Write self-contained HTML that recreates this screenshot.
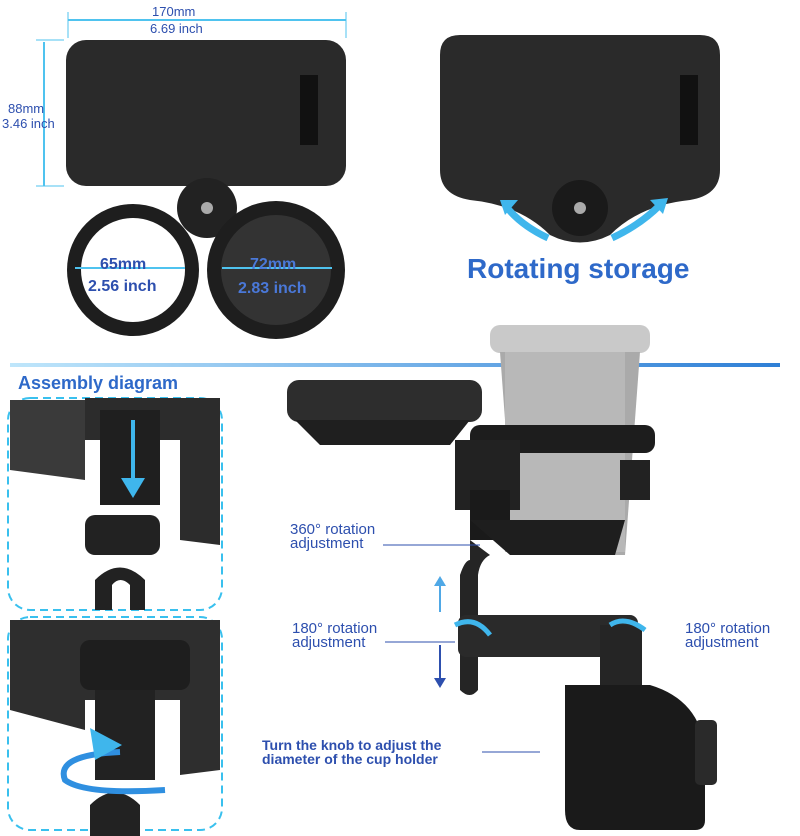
<!DOCTYPE html>
<html><head><meta charset="utf-8"><style>
body{margin:0;background:#fff;width:800px;height:836px;position:relative;overflow:hidden;font-family:"Liberation Sans",sans-serif}
.a{position:absolute}
.t{position:absolute;color:#2d4fae;font-weight:bold;white-space:nowrap}
.lbl{position:absolute;color:#2d4fae;font-size:15px;line-height:14px;white-space:nowrap}
</style></head><body>
<svg class="a" style="left:0;top:0" width="800" height="836">
<defs>
<linearGradient id="ln" x1="0" x2="1"><stop offset="0" stop-color="#bfe6fb"/><stop offset="1" stop-color="#2e7fd6"/></linearGradient>
</defs>
<line x1="68" y1="20" x2="346" y2="20" stroke="#4fc3ef" stroke-width="2"/>
<line x1="68" y1="12" x2="68" y2="38" stroke="#4fc3ef"/><line x1="346" y1="12" x2="346" y2="38" stroke="#4fc3ef"/>
<line x1="44" y1="42" x2="44" y2="186" stroke="#4fc3ef" stroke-width="2"/>
<line x1="36" y1="40" x2="64" y2="40" stroke="#4fc3ef"/><line x1="36" y1="186" x2="64" y2="186" stroke="#4fc3ef"/>
<rect x="66" y="40" width="280" height="146" rx="20" fill="#2a2a2a"/>
<rect x="300" y="75" width="18" height="70" fill="#111"/>
<circle cx="207" cy="208" r="30" fill="#222"/>
<circle cx="207" cy="208" r="6" fill="#aaa"/>
<circle cx="133" cy="270" r="66" fill="#1e1e1e"/>
<circle cx="133" cy="270" r="52" fill="#fff"/>
<circle cx="276" cy="270" r="69" fill="#1e1e1e"/>
<circle cx="276" cy="270" r="55" fill="#333"/>
<line x1="75" y1="268" x2="185" y2="268" stroke="#4fc3ef" stroke-width="2"/>
<line x1="222" y1="268" x2="332" y2="268" stroke="#4fc3ef" stroke-width="2"/>
<path d="M460 35 H700 Q720 35 720 55 V170 Q720 195 690 200 Q640 205 610 235 Q580 250 550 235 Q520 205 470 200 Q440 195 440 170 V55 Q440 35 460 35Z" fill="#2a2a2a"/>
<rect x="680" y="75" width="18" height="70" fill="#111"/>
<circle cx="580" cy="208" r="28" fill="#1a1a1a"/><circle cx="580" cy="208" r="6" fill="#aaa"/>
<path d="M505 205 Q520 225 548 238" stroke="#3fb6ec" stroke-width="7" fill="none"/>
<path d="M500 200 L518 200 L505 215Z" fill="#3fb6ec"/>
<path d="M612 238 Q640 225 660 205" stroke="#3fb6ec" stroke-width="7" fill="none"/>
<path d="M668 198 L650 200 L663 214Z" fill="#3fb6ec"/>
<rect x="10" y="363" width="770" height="4" fill="url(#ln)"/>
<rect x="8" y="398" width="214" height="212" rx="22" fill="#fff" stroke="#39c0ee" stroke-width="2" stroke-dasharray="8 5"/>
<path d="M10 400 H85 V480 L10 470Z" fill="#3a3a3a"/>
<path d="M85 398 H220 V545 L180 540 V440 H85Z" fill="#2c2c2c"/>
<rect x="100" y="410" width="60" height="95" fill="#1f1f1f"/>
<rect x="85" y="515" width="75" height="40" rx="10" fill="#222"/>
<path d="M95 610 V580 Q120 555 145 580 V610 H130 V585 Q120 575 112 585 V610Z" fill="#222"/>
<line x1="133" y1="420" x2="133" y2="485" stroke="#3fb6ec" stroke-width="4"/>
<path d="M121 478 L145 478 L133 498Z" fill="#3fb6ec"/>
<rect x="8" y="617" width="214" height="213" rx="22" fill="#fff" stroke="#39c0ee" stroke-width="2" stroke-dasharray="8 5"/>
<path d="M10 620 H220 V770 L180 775 V700 H85 V730 L10 710Z" fill="#2e2e2e"/>
<rect x="80" y="640" width="110" height="50" rx="10" fill="#1e1e1e"/>
<rect x="95" y="690" width="60" height="90" fill="#222"/>
<path d="M90 836 V805 Q115 780 140 805 V836Z" fill="#222"/>
<path d="M120 752 Q55 755 65 780 Q85 795 165 790" stroke="#2f8fe0" stroke-width="6" fill="none"/>
<path d="M90 728 L122 745 L95 760Z" fill="#3fb6ec"/>
<rect x="287" y="380" width="195" height="42" rx="12" fill="#2d2d2d"/>
<path d="M295 420 H470 L450 445 H320Z" fill="#1f1f1f"/>
<rect x="490" y="325" width="160" height="28" rx="10" fill="#c9c9c9"/>
<path d="M500 352 H640 L625 555 H515Z" fill="#aaa"/>
<rect x="505" y="352" width="120" height="200" fill="#b8b8b8"/>
<rect x="470" y="425" width="185" height="28" rx="10" fill="#1d1d1d"/>
<rect x="455" y="440" width="65" height="70" fill="#222"/>
<rect x="620" y="460" width="30" height="40" fill="#222"/>
<rect x="470" y="490" width="40" height="50" fill="#1a1a1a"/>
<path d="M470 520 H625 L615 555 H510Z" fill="#1e1e1e"/>
<path d="M470 540 V560 Q465 560 460 575 V690 Q470 700 478 690 V575 Q480 560 490 555Z" fill="#252525"/>
<rect x="458" y="615" width="180" height="42" rx="8" fill="#2a2a2a"/>
<rect x="600" y="625" width="42" height="60" fill="#252525"/>
<path d="M565 685 H650 Q700 700 705 750 V820 Q705 830 695 830 H580 Q565 830 565 810 Z" fill="#1a1a1a"/>
<rect x="695" y="720" width="22" height="65" rx="5" fill="#2a2a2a"/>
<line x1="440" y1="580" x2="440" y2="612" stroke="#4fa8e6" stroke-width="2"/><path d="M434 586 L440 576 L446 586Z" fill="#4fa8e6"/>
<line x1="440" y1="645" x2="440" y2="685" stroke="#2d4fae" stroke-width="2"/><path d="M434 678 L440 688 L446 678Z" fill="#2d4fae"/>
<path d="M455 625 Q475 615 490 635" stroke="#3fb6ec" stroke-width="5" fill="none"/>
<path d="M610 625 Q625 615 645 630" stroke="#3fb6ec" stroke-width="5" fill="none"/>
<line x1="383" y1="545" x2="480" y2="545" stroke="#2d4fae"/>
<line x1="385" y1="642" x2="455" y2="642" stroke="#2d4fae"/>
<line x1="482" y1="752" x2="540" y2="752" stroke="#2d4fae"/>
</svg>
<div class="t" style="left:152px;top:4px;font-size:13px;font-weight:normal">170mm</div>
<div class="t" style="left:150px;top:21px;font-size:13px;font-weight:normal">6.69 inch</div>
<div class="t" style="left:8px;top:101px;font-size:13px;font-weight:normal">88mm</div>
<div class="t" style="left:2px;top:116px;font-size:13px;font-weight:normal">3.46 inch</div>
<div class="t" style="left:100px;top:256px;font-size:16px">65mm</div>
<div class="t" style="left:88px;top:278px;font-size:16px">2.56 inch</div>
<div class="t" style="left:250px;top:256px;font-size:16px;color:#4a78d8">72mm</div>
<div class="t" style="left:238px;top:280px;font-size:16px;color:#4a78d8">2.83 inch</div>
<div class="t" style="left:467px;top:253px;font-size:28px;color:#2e69c9">Rotating storage</div>
<div class="t" style="left:18px;top:373px;font-size:18px;color:#2e69c9">Assembly diagram</div>
<div class="lbl" style="left:290px;top:523px">360° rotation<br>adjustment</div>
<div class="lbl" style="left:292px;top:622px">180° rotation<br>adjustment</div>
<div class="lbl" style="left:685px;top:622px">180° rotation<br>adjustment</div>
<div class="lbl" style="left:262px;top:738px;font-weight:bold;font-size:14px">Turn the knob to adjust the<br>diameter of the cup holder</div>
</body></html>
